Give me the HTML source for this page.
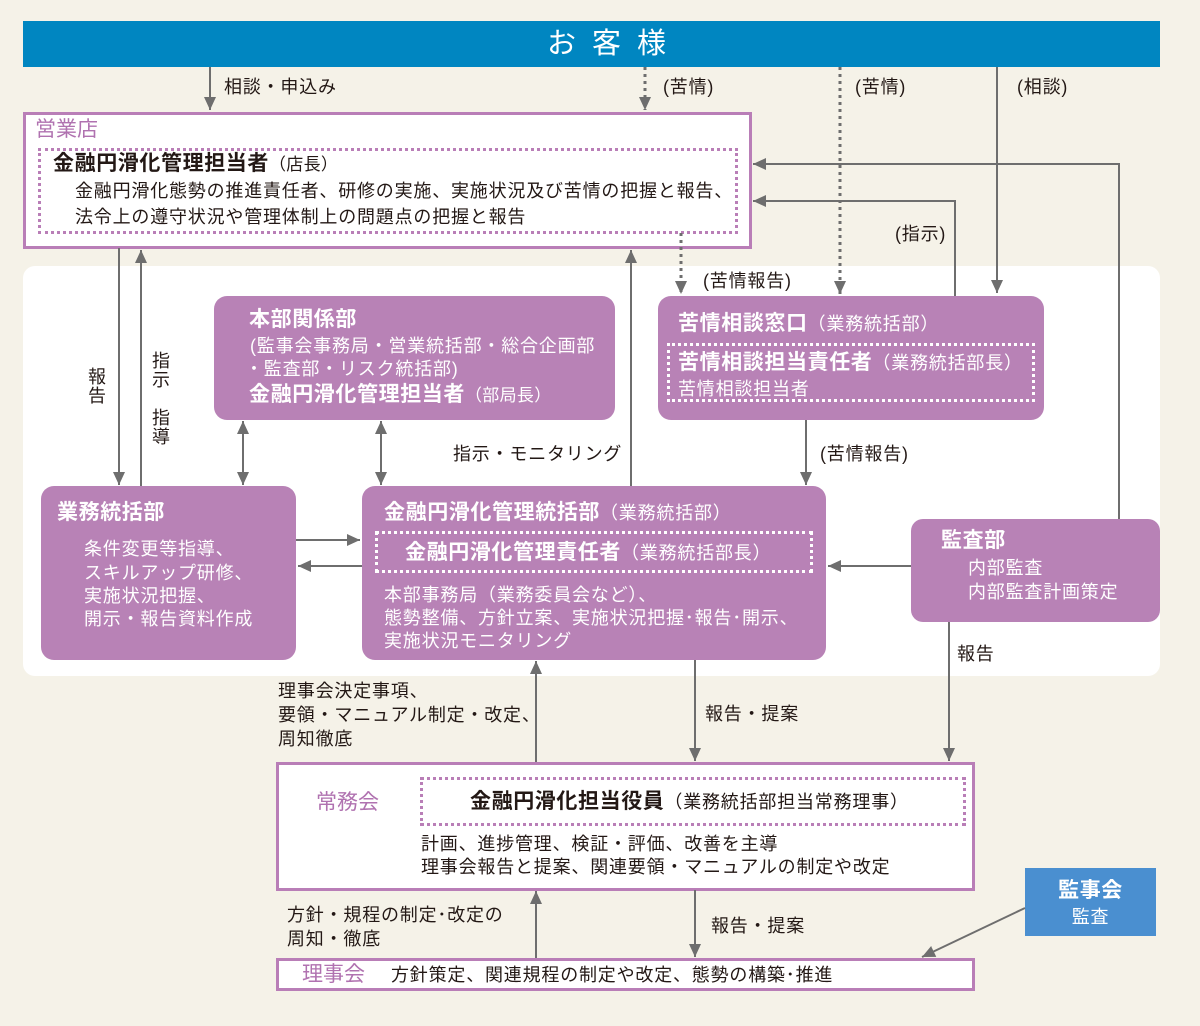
<!DOCTYPE html>
<html>
<head>
<meta charset="utf-8">
<style>
html,body{margin:0;padding:0;}
body{width:1200px;height:1026px;background:#f5f2e8;position:relative;overflow:hidden;
font-family:"Liberation Sans","Noto Sans CJK JP",sans-serif;color:#231815;}
.a{position:absolute;white-space:nowrap;line-height:1;margin-top:1px;}
.t{font-size:18px;letter-spacing:0.8px;}
.b{font-size:21px;font-weight:bold;letter-spacing:0.6px;}
.s{font-size:17px;font-weight:normal;letter-spacing:0.3px;}
.box{position:absolute;background:#b882b6;border-radius:13px;}
.w{color:#fff;}
.pl{color:#b072b0;font-size:21px;}
.vt{writing-mode:vertical-rl;font-size:18px;letter-spacing:1px;}
</style>
</head>
<body>
<!-- white panel -->
<div style="position:absolute;left:23px;top:266px;width:1137px;height:410px;background:#fff;border-radius:12px;"></div>
<!-- top bar -->
<div style="position:absolute;left:23px;top:21px;width:1137px;height:46px;background:#0086c1;"></div>
<div class="a w" style="left:547px;top:29px;font-size:29px;letter-spacing:16px;">お客様</div>

<!-- 営業店 -->
<div style="position:absolute;left:23px;top:112px;width:723px;height:131px;background:#fff;border:3px solid #b97eb7;"></div>
<div style="position:absolute;left:38px;top:148px;width:694px;height:80px;border:3px dotted #b97eb7;"></div>

<!-- 常務会 -->
<div style="position:absolute;left:276px;top:762px;width:693px;height:123px;background:#fff;border:3px solid #b97eb7;"></div>
<div style="position:absolute;left:420px;top:777px;width:540px;height:43px;border:3px dotted #b97eb7;"></div>

<!-- 理事会 -->
<div style="position:absolute;left:276px;top:958px;width:693px;height:27px;background:#fff;border:3px solid #b97eb7;"></div>

<!-- 監事会 -->
<div style="position:absolute;left:1025px;top:868px;width:131px;height:68px;background:#4a8fd0;"></div>

<svg width="1200" height="1026" style="position:absolute;left:0;top:0;" xmlns="http://www.w3.org/2000/svg">
<defs>
<marker id="ar" markerUnits="userSpaceOnUse" markerWidth="14" markerHeight="12" refX="13" refY="6" orient="auto">
<path d="M0,0 L13,6 L0,12 z" fill="#6e6e6e"/>
</marker>
<marker id="as" markerUnits="userSpaceOnUse" markerWidth="14" markerHeight="12" refX="0" refY="6" orient="auto">
<path d="M13,0 L0,6 L13,12 z" fill="#6e6e6e"/>
</marker>
</defs>
<g stroke="#6e6e6e" stroke-width="2" fill="none">
<line x1="210" y1="67" x2="210" y2="110" marker-end="url(#ar)"/>
<line x1="645" y1="67" x2="645" y2="110" stroke-width="3" stroke-dasharray="3,4" marker-end="url(#ar)"/>
<line x1="840" y1="67" x2="840" y2="294" stroke-width="3" stroke-dasharray="3,4" marker-end="url(#ar)"/>
<line x1="997" y1="67" x2="997" y2="293" marker-end="url(#ar)"/>
<polyline points="1119,519 1119,164 753,164" marker-end="url(#ar)"/>
<polyline points="955,296 955,201 753,201" marker-end="url(#ar)"/>
<line x1="119" y1="248" x2="119" y2="485" marker-end="url(#ar)"/>
<line x1="141" y1="486" x2="141" y2="250" marker-end="url(#ar)"/>
<line x1="631" y1="486" x2="631" y2="250" marker-end="url(#ar)"/>
<line x1="681" y1="233" x2="681" y2="294" stroke-width="3" stroke-dasharray="3,4" marker-end="url(#ar)"/>
<line x1="243" y1="421" x2="243" y2="485" marker-start="url(#as)" marker-end="url(#ar)"/>
<line x1="381" y1="421" x2="381" y2="485" marker-start="url(#as)" marker-end="url(#ar)"/>
<line x1="806" y1="420" x2="806" y2="485" marker-end="url(#ar)"/>
<line x1="296" y1="540" x2="360" y2="540" marker-end="url(#ar)"/>
<line x1="362" y1="566" x2="298" y2="566" marker-end="url(#ar)"/>
<line x1="911" y1="566" x2="828" y2="566" marker-end="url(#ar)"/>
<line x1="949" y1="622" x2="949" y2="761" marker-end="url(#ar)"/>
<line x1="536" y1="762" x2="536" y2="661" marker-end="url(#ar)"/>
<line x1="695" y1="660" x2="695" y2="761" marker-end="url(#ar)"/>
<line x1="536" y1="958" x2="536" y2="891" marker-end="url(#ar)"/>
<line x1="695" y1="890" x2="695" y2="957" marker-end="url(#ar)"/>
<line x1="1025" y1="908" x2="922" y2="957" marker-end="url(#ar)"/>
</g>
</svg>

<!-- purple boxes -->
<div class="box" style="left:214px;top:296px;width:401px;height:124px;"></div>
<div class="box" style="left:658px;top:296px;width:386px;height:124px;"></div>
<div style="position:absolute;left:667px;top:343px;width:362px;height:53px;border:3px dotted #fff;"></div>
<div class="box" style="left:41px;top:486px;width:255px;height:174px;"></div>
<div class="box" style="left:362px;top:486px;width:464px;height:174px;"></div>
<div style="position:absolute;left:375px;top:531px;width:432px;height:36px;border:3px dotted #fff;"></div>
<div class="box" style="left:911px;top:519px;width:249px;height:103px;border-radius:12px;"></div>

<!-- 営業店 text -->
<div class="a pl" style="left:35px;top:118px;">営業店</div>
<div class="a b" style="left:53px;top:152px;">金融円滑化管理担当者<span class="s">（店長）</span></div>
<div class="a t" style="left:75px;top:181px;">金融円滑化態勢の推進責任者、研修の実施、実施状況及び苦情の把握と報告、</div>
<div class="a t" style="left:75px;top:207px;">法令上の遵守状況や管理体制上の問題点の把握と報告</div>

<!-- labels top -->
<div class="a t" style="left:224px;top:77px;">相談・申込み</div>
<div class="a t" style="left:663px;top:77px;">(苦情)</div>
<div class="a t" style="left:855px;top:77px;">(苦情)</div>
<div class="a t" style="left:1017px;top:77px;">(相談)</div>
<div class="a t" style="left:895px;top:224px;">(指示)</div>
<div class="a t" style="left:703px;top:271px;">(苦情報告)</div>
<div class="a t" style="left:453px;top:444px;">指示・モニタリング</div>
<div class="a t" style="left:820px;top:444px;">(苦情報告)</div>
<div class="a vt" style="left:87px;top:366px;">報告</div>
<div class="a vt" style="left:151px;top:350px;">指示　指導</div>

<!-- 本部関係部 -->
<div class="a b w" style="left:249px;top:308px;">本部関係部</div>
<div class="a t w" style="left:250px;top:336px;">(監事会事務局・営業統括部・総合企画部</div>
<div class="a t w" style="left:245px;top:359px;">・監査部・リスク統括部)</div>
<div class="a b w" style="left:249px;top:383px;">金融円滑化管理担当者<span class="s">（部局長）</span></div>

<!-- 苦情相談窓口 -->
<div class="a b w" style="left:678px;top:312px;">苦情相談窓口<span class="t" style="font-weight:normal;">（業務統括部）</span></div>
<div class="a b w" style="left:678px;top:351px;">苦情相談担当責任者<span class="t" style="font-weight:normal;">（業務統括部長）</span></div>
<div class="a t w" style="left:678px;top:379px;">苦情相談担当者</div>

<!-- 業務統括部 -->
<div class="a b w" style="left:57px;top:501px;">業務統括部</div>
<div class="a t w" style="left:84px;top:539px;">条件変更等指導、</div>
<div class="a t w" style="left:84px;top:563px;">スキルアップ研修、</div>
<div class="a t w" style="left:84px;top:586px;">実施状況把握、</div>
<div class="a t w" style="left:84px;top:609px;">開示・報告資料作成</div>

<!-- 金融円滑化管理統括部 -->
<div class="a b w" style="left:384px;top:501px;">金融円滑化管理統括部<span class="t" style="font-weight:normal;">（業務統括部）</span></div>
<div class="a b w" style="left:405px;top:541px;">金融円滑化管理責任者<span class="t" style="font-weight:normal;">（業務統括部長）</span></div>
<div class="a t w" style="left:384px;top:585px;">本部事務局（業務委員会など）、</div>
<div class="a t w" style="left:384px;top:608px;">態勢整備、方針立案、実施状況把握･報告･開示、</div>
<div class="a t w" style="left:384px;top:631px;">実施状況モニタリング</div>

<!-- 監査部 -->
<div class="a b w" style="left:941px;top:529px;">監査部</div>
<div class="a t w" style="left:968px;top:558px;">内部監査</div>
<div class="a t w" style="left:968px;top:582px;">内部監査計画策定</div>

<!-- middle labels -->
<div class="a t" style="left:957px;top:644px;">報告</div>
<div class="a t" style="left:278px;top:681px;">理事会決定事項、</div>
<div class="a t" style="left:278px;top:705px;">要領・マニュアル制定・改定、</div>
<div class="a t" style="left:278px;top:729px;">周知徹底</div>
<div class="a t" style="left:705px;top:704px;">報告・提案</div>

<!-- 常務会 -->
<div class="a pl" style="left:316px;top:791px;">常務会</div>
<div class="a b" style="left:470px;top:790px;">金融円滑化担当役員<span class="t" style="font-weight:normal;">（業務統括部担当常務理事）</span></div>
<div class="a t" style="left:421px;top:834px;">計画、進捗管理、検証・評価、改善を主導</div>
<div class="a t" style="left:421px;top:857px;">理事会報告と提案、関連要領・マニュアルの制定や改定</div>

<!-- bottom labels -->
<div class="a t" style="left:287px;top:905px;">方針・規程の制定･改定の</div>
<div class="a t" style="left:287px;top:929px;">周知・徹底</div>
<div class="a t" style="left:711px;top:916px;">報告・提案</div>

<!-- 理事会 -->
<div class="a pl" style="left:302px;top:963px;">理事会</div>
<div class="a t" style="left:391px;top:965px;">方針策定、関連規程の制定や改定、態勢の構築･推進</div>

<!-- 監事会 -->
<div class="a b w" style="left:1025px;top:879px;width:131px;text-align:center;">監事会</div>
<div class="a t w" style="left:1025px;top:907px;width:131px;text-align:center;">監査</div>
</body>
</html>
